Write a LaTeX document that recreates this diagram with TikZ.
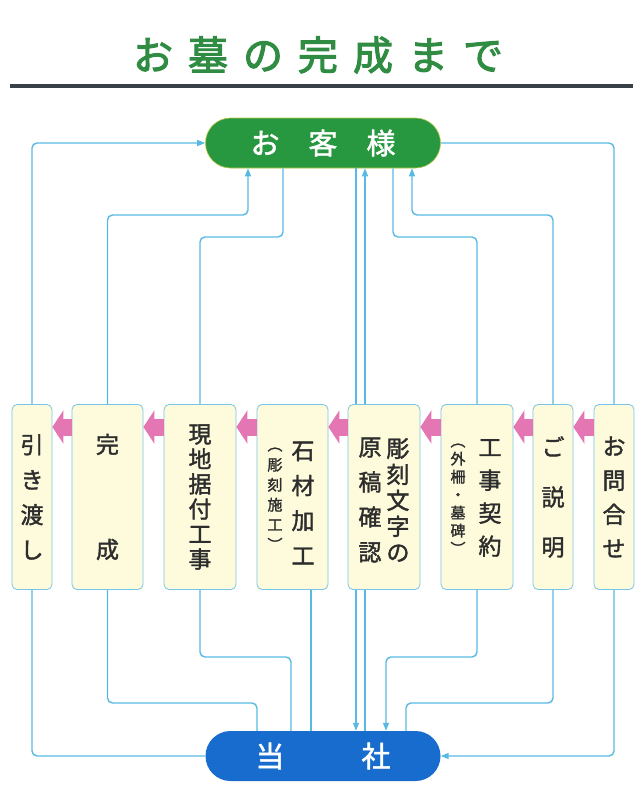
\documentclass[tikz,border=0pt]{standalone}
\usepackage{fontspec}
\setmainfont{Noto Sans CJK JP}[FakeBold=1.6]
\newfontfamily\titlefont{Noto Sans CJK JP}[FakeBold=2.6]
\usepackage{tikz}
\usetikzlibrary{arrows.meta,calc}
\definecolor{kusa}{RGB}{40,152,64}
\definecolor{ao}{RGB}{24,108,206}
\definecolor{sen}{RGB}{88,186,226}
\definecolor{waku}{RGB}{120,196,230}
\definecolor{cream}{RGB}{253,251,220}
\definecolor{momo}{RGB}{228,118,180}
\definecolor{sumi}{RGB}{45,45,45}
\definecolor{rule}{RGB}{58,64,72}
\definecolor{titlegreen}{RGB}{48,140,66}
\tikzstyle{box}=[rectangle, rounded corners=5pt, draw=waku, fill=cream, line width=0.8pt, minimum height=185pt, inner sep=0pt, align=center, text=sumi]
\tikzstyle{tate}=[align=center, inner sep=0pt, text=sumi]
\tikzstyle{tatesub}=[align=center, inner sep=0pt, text=sumi, font=\fontsize{15}{18}\selectfont]
\tikzstyle{pill}=[rectangle, rounded corners=25pt, minimum width=235pt, minimum height=50pt, text=white, font=\fontsize{29}{29}\selectfont]
\tikzstyle{link}=[draw=sen, line width=1.4pt, rounded corners=5pt]
\tikzstyle{flow}=[draw=momo, line width=17pt, -{Triangle[length=11pt,width=33pt]}]

\begin{document}
\begin{tikzpicture}[x=1pt, y=-1pt, >={Triangle[length=8pt,width=6pt]}]
\useasboundingbox (0,0) rectangle (640,792);

% title
\node[text=titlegreen, font=\titlefont\fontsize{40}{40}\selectfont] (title) at (318,55) {お\kern15pt 墓\kern15pt の\kern15pt 完\kern15pt 成\kern15pt ま\kern15pt で};
\draw[line width=4pt, rule] (10,86) -- (633,86);

\node[pill, fill=kusa, draw=yellow!60!kusa, line width=0.6pt] (kyaku) at (323,143) {お　客　様};
\node[pill, fill=ao] (tosha) at (323,756) {当\hspace{77pt}社};

% steps, right to left
\node[box, minimum width=40pt, font=\fontsize{23}{34}\selectfont] (b8) at (614,497) {お\\問\\合\\せ};
\node[box, minimum width=40pt, font=\fontsize{23}{50}\selectfont] (b7) at (553,497) {ご\\説\\明};
\node[box, minimum width=72pt] (b6) at (477,497) {};
\node[tate, font=\fontsize{23}{33}\selectfont] (t6) at (490,498) {工\\事\\契\\約};
\node[tatesub] (s6) at (458,499) {︵\\外\\柵\\・\\墓\\碑\\︶};
\node[box, minimum width=72pt] (b5) at (384,497) {};
\node[tate, font=\fontsize{23}{26}\selectfont] (t5) at (398,500) {彫\\刻\\文\\字\\の};
\node[tate, font=\fontsize{23}{35}\selectfont] (s5) at (370,500) {原\\稿\\確\\認};
\node[box, minimum width=71pt] (b4) at (292.5,497) {};
\node[tate, font=\fontsize{23}{35}\selectfont] (t4) at (303,503) {石\\材\\加\\工};
\node[tatesub, font=\fontsize{15}{20}\selectfont] (s4) at (275,499) {︵\\彫\\刻\\施\\工\\︶};
\node[box, minimum width=72pt, font=\fontsize{23}{25}\selectfont] (b3) at (200,497) {現\\地\\据\\付\\工\\事};
\node[box, minimum width=71pt, font=\fontsize{23}{35}\selectfont] (b2) at (107.5,497) {完\\[70pt]成};
\node[box, minimum width=40pt, font=\fontsize{23}{35}\selectfont] (b1) at (32,497) {引\\き\\渡\\し};

% order of the work
\foreach \a/\b in {b8/b7,b7/b6,b6/b5,b5/b4,b4/b3,b3/b2,b2/b1}
  \draw[flow] (\a.west |- 0,427) -- (\b.east |- 0,427);

% customer side
\draw[link,->] (b1.north) |- (kyaku.west);
\draw[link,->] (b2.north) |- (248,215) -- (248,0 |- kyaku.south);
\draw[link] (283,0 |- kyaku.south) |- (200,237) -- (b3.north);
\draw[link] (356,0 |- kyaku.south) -- (356,0 |- b5.north);
\draw[link,->] (365,0 |- b5.north) -- (365,0 |- kyaku.south);
\draw[link] (393,0 |- kyaku.south) |- (477,237) -- (b6.north);
\draw[link,->] (b7.north) |- (412,215) -- (412,0 |- kyaku.south);
\draw[link] (kyaku.east) -| (b8.north);

% company side
\draw[link] (b1.south) |- (tosha.west);
\draw[link] (b2.south) |- (257,703) -- (257,0 |- tosha.north);
\draw[link] (b3.south) |- (291,657) -- (291,0 |- tosha.north);
\draw[link] (311,0 |- b4.south) -- (311,0 |- tosha.north);
\draw[link,->] (356,0 |- b5.south) -- (356,0 |- tosha.north);
\draw[link] (365,0 |- tosha.north) -- (365,0 |- b5.south);
\draw[link,->] (b6.south) |- (386,657) -- (386,0 |- tosha.north);
\draw[link] (b7.south) |- (406,703) -- (406,0 |- tosha.north);
\draw[link,->] (b8.south) |- (tosha.east);

\end{tikzpicture}
\end{document}
